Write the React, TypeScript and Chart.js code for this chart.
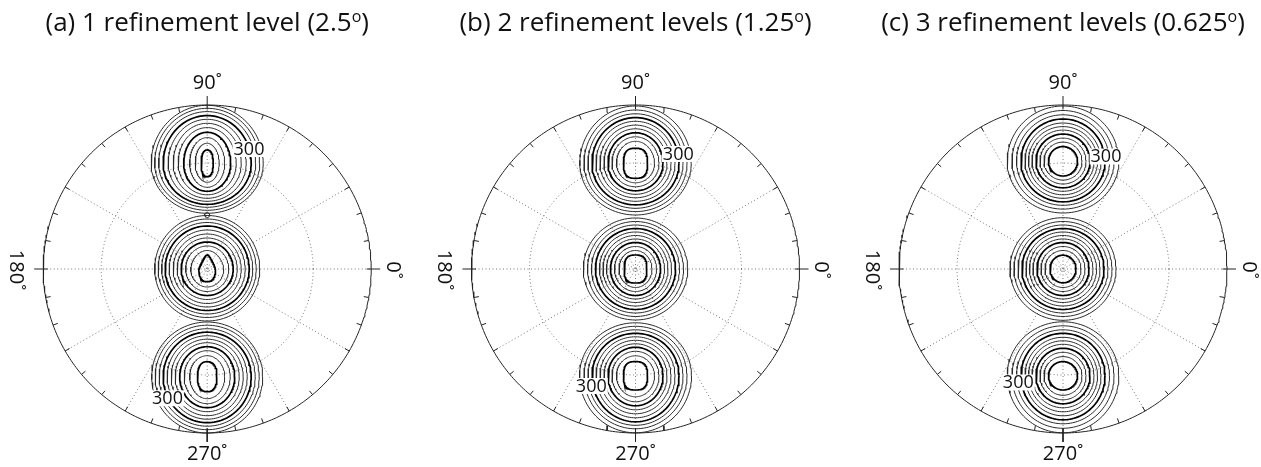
import React, { useEffect, useRef } from "react";
import { Chart, registerables } from "chart.js";

Chart.register(...registerables);

// ---------- data (polar plot units: outer circle radius = 164) ----------
const RMAX = 164;
const GRID_RING = 106;
const SPOKE_ANGLES = [0, 30, 60, 90, 120, 150];
const TICK_ANGLES = [0, 10, 20, 30, 40, 50, 60, 70, 80, 90, 100, 110, 120, 130, 140, 150, 160, 170, 180, 190, 200, 210, 220, 230, 240, 250, 260, 270, 280, 290, 300, 310, 320, 330, 340, 350];
const MAJOR_TICKS = [0, 90, 180, 270];
const ANGLE_LABELS = ["0˚", "90˚", "180˚", "270˚"];

const TITLES = ["(a) 1 refinement level (2.5", "(b) 2 refinement levels (1.25", "(c) 3 refinement levels (0.625"];
const CONTOUR_LABEL = "300";

// contour rings from outermost to innermost; thick lines flagged
const THICK = [false, false, false, true, false, false, false, true, false, false, true];

// blob peak positions (y, up positive)
const PEAK_Y_A = [105.7, 0, -107.7];
const PEAK_Y_B = [105.7, 0, -106.8];
const PEAK_Y_C = [107.7, 0, -106.8];

// panel (a)
const aTopW = [56, 52.5, 48.5, 44, 39, 34, 29, 23.5, 17.5, 12, 6];
const aTopUp = [58, 55, 51.7, 47.7, 44, 40, 35.7, 31, 25.7, 20, 13.3];
const aTopDn = [50, 47, 44, 41, 38, 35, 31.5, 28, 24, 19, 13.3];
const aMidW = [52.5, 49, 45.5, 42, 38, 34, 30, 26, 21.5, 16.5, 8.3];
const aMidUp = [53.5, 50, 46.5, 43, 39, 35, 31, 27, 23, 18.5, 14];
const aMidDn = [52, 48.5, 45, 41.5, 38, 34.5, 30.5, 26.5, 22.5, 18, 12.7];
const aMidTaper = [0, 0, 0, 0, 0, 0, 0, 0, 0, 0.1, 0.6];
const aBotW = [55.5, 52, 48, 44, 40, 36, 32, 27.5, 23, 17.5, 9.7];
const aBotUp = [54.7, 51.5, 48, 44.5, 41, 37.5, 34, 30, 26, 21, 15];
const aBotDn = [56.3, 53, 49.5, 46, 42.5, 39, 35, 31, 27, 22, 15];
const aSaddle = [0, 54, 2.5];

// panel (b)
const bTopW = [55.7, 51.5, 47.5, 43.5, 39.5, 35.5, 31.5, 27.5, 23.5, 19, 12];
const bTopUp = [57.3, 53.3, 49.5, 45.7, 42, 38.2, 34.5, 30.5, 26.5, 22, 15];
const bTopDn = [51.7, 48.3, 45, 41.5, 38, 34.5, 31, 27.5, 23.5, 19.5, 15];
const bMidW = [52.2, 48, 44, 40, 36, 32.5, 29, 25, 21, 16.5, 11.3];
const bMidUp = [51, 47.5, 44, 40.5, 37, 33.5, 30, 26.5, 22.5, 18.5, 14];
const bMidDn = [51, 47.5, 44, 40.5, 37, 33.5, 30, 26.5, 22.5, 18.5, 14];
const bBotW = [56, 51.5, 47.5, 43.5, 39.5, 35.5, 31.5, 27.5, 23.5, 19, 12];
const bBotUp = [53, 49.5, 46, 42.5, 39, 35.5, 32, 28.5, 24.5, 20, 14.2];
const bBotDn = [57, 53, 49.5, 46, 42, 38, 34, 30, 26, 21, 14.2];

// panel (c)
const cTopW = [55.8, 51, 46.5, 42, 38, 34.5, 31, 27, 23, 19, 14.5];
const cTopUp = [55.3, 50.8, 46.5, 42.3, 38.3, 34.7, 31.2, 27.2, 23.2, 19.2, 14.7];
const cTopDn = [51.7, 47.8, 44, 40.5, 37, 33.5, 30, 26.5, 22.7, 18.8, 14.7];
const cMidW = [53, 49, 45, 41, 37, 33.5, 30, 26, 22, 18, 13];
const cMidUp = [51.3, 47.5, 44, 40.5, 37, 33.5, 30, 26.5, 22.5, 18.5, 13.8];
const cMidDn = [51.3, 47.5, 44, 40.5, 37, 33.5, 30, 26.5, 22.5, 18.5, 13.8];
const cBotW = [55.8, 51, 46.5, 42, 38, 34.5, 31, 27, 23, 19, 14.5];
const cBotUp = [54, 50, 46, 42.5, 38.5, 35, 31.5, 27.5, 23.5, 19.2, 14.2];
const cBotDn = [57, 52.5, 48, 44, 40, 36, 32, 28, 24, 19.5, 14.2];

// "300" label positions per panel: [x, y] top blob, bottom blob
const LABEL_POS_A = [[41.8, 120], [-39.7, -129.3]];
const LABEL_POS_B = [[42.8, 115], [-44.2, -117]];
const LABEL_POS_C = [[43, 112.5], [-44.7, -113.5]];

// inner-ring squareness per panel (2 = ellipse)
const INNER_SQUARE = [2.4, 2.8, 2];

// ---------- layout ----------
const PAGE_W = 1261;
const PAGE_H = 467;
const CANVAS_LEFT = [0, 421, 842];
const CANVAS_W = [421, 421, 419];
const CENTER_X = [207.2, 214.5, 221];
const CENTER_Y = 269;
const FONT = "'Open Sans', 'Noto Sans', sans-serif";

type Blob = { peakY: number; w: number[]; up: number[]; dn: number[]; taper?: number[] };

const PANELS = [
  {
    blobs: [
      { peakY: PEAK_Y_A[0], w: aTopW, up: aTopUp, dn: aTopDn },
      { peakY: PEAK_Y_A[1], w: aMidW, up: aMidUp, dn: aMidDn, taper: aMidTaper },
      { peakY: PEAK_Y_A[2], w: aBotW, up: aBotUp, dn: aBotDn },
    ] as Blob[],
    labels: LABEL_POS_A,
    saddle: aSaddle,
  },
  {
    blobs: [
      { peakY: PEAK_Y_B[0], w: bTopW, up: bTopUp, dn: bTopDn },
      { peakY: PEAK_Y_B[1], w: bMidW, up: bMidUp, dn: bMidDn },
      { peakY: PEAK_Y_B[2], w: bBotW, up: bBotUp, dn: bBotDn },
    ] as Blob[],
    labels: LABEL_POS_B,
    saddle: null as number[] | null,
  },
  {
    blobs: [
      { peakY: PEAK_Y_C[0], w: cTopW, up: cTopUp, dn: cTopDn },
      { peakY: PEAK_Y_C[1], w: cMidW, up: cMidUp, dn: cMidDn },
      { peakY: PEAK_Y_C[2], w: cBotW, up: cBotUp, dn: cBotDn },
    ] as Blob[],
    labels: LABEL_POS_C,
    saddle: null as number[] | null,
  },
];

function ring(cx: number, cy: number, halfW: number, up: number, dn: number, taper: number, sq: number, n: number) {
  const pts: { x: number; y: number }[] = [];
  const e = 2 / sq;
  for (let k = 0; k <= n; k++) {
    const t = (k / n) * Math.PI * 2;
    const c = Math.cos(t);
    const s = Math.sin(t);
    const cc = Math.sign(c) * Math.pow(Math.abs(c), e);
    const ss = Math.sign(s) * Math.pow(Math.abs(s), e);
    const y = ss >= 0 ? up * ss : dn * ss;
    const x = halfW * cc * (1 - taper * Math.max(0, ss));
    pts.push({ x: cx + x, y: cy + y });
  }
  return pts;
}

function lineDs(data: { x: number; y: number }[], color: string, width: number, dash: number[] = []) {
  return {
    data,
    showLine: true,
    borderColor: color,
    borderWidth: width,
    borderDash: dash,
    pointRadius: 0,
    pointHoverRadius: 0,
    fill: false,
    tension: 0,
  };
}

function polar(r: number, deg: number) {
  const a = (deg * Math.PI) / 180;
  return { x: r * Math.cos(a), y: r * Math.sin(a) };
}

function buildDatasets(pi: number) {
  const p = PANELS[pi];
  const ds: any[] = [];
  TICK_ANGLES.forEach((ang) => {
    const major = MAJOR_TICKS.includes(ang);
    const r0 = major ? RMAX - 4.5 : RMAX - 5;
    const r1 = major ? RMAX + 9 : RMAX;
    ds.push(lineDs([polar(r0, ang), polar(r1, ang)], "#222", 1));
  });
  const circ: { x: number; y: number }[] = [];
  for (let k = 0; k <= 360; k++) circ.push(polar(RMAX, k));
  ds.push(lineDs(circ, "#222", 1));
  p.blobs.forEach((b) => {
    b.w.forEach((w, i) => {
      const inner = i === b.w.length - 1;
      const sq = inner ? INNER_SQUARE[pi] : 2;
      const taper = b.taper ? b.taper[i] : 0;
      ds.push(lineDs(ring(0, b.peakY, w, b.up[i], b.dn[i], taper, sq, 120), THICK[i] ? "#000" : "#2a2a2a", THICK[i] ? 1.7 : 1));
    });
  });
  if (p.saddle) {
    ds.push(lineDs(ring(p.saddle[0], p.saddle[1], p.saddle[2], p.saddle[2], p.saddle[2], 0, 2, 24), "#2a2a2a", 1));
  }
  const gr: { x: number; y: number }[] = [];
  for (let k = 0; k <= 360; k++) gr.push(polar(GRID_RING, k));
  ds.push(lineDs(gr, "#777", 1, [1, 2.5]));
  SPOKE_ANGLES.forEach((ang) => {
    ds.push(lineDs([polar(RMAX, ang + 180), polar(RMAX, ang)], "#777", 1, [1, 2.5]));
  });
  return ds;
}

const textPlugin = {
  id: "polarText",
  afterDraw(chart: any, _args: any, opts: any) {
    const ctx = chart.ctx as CanvasRenderingContext2D;
    const xs = chart.scales.x;
    const ys = chart.scales.y;
    const px = (v: number) => xs.getPixelForValue(v);
    const py = (v: number) => ys.getPixelForValue(v);
    const pi = opts.panel as number;
    ctx.save();
    ctx.font = `18px ${FONT}`;
    ctx.textAlign = "center";
    ctx.textBaseline = "middle";
    PANELS[pi].labels.forEach((lp: number[]) => {
      const x = px(lp[0]);
      const y = py(lp[1]);
      const w = ctx.measureText(CONTOUR_LABEL).width;
      ctx.fillStyle = "#fff";
      ctx.fillRect(x - w / 2 - 1, y - 8, w + 2, 16);
      ctx.fillStyle = "#111";
      ctx.fillText(CONTOUR_LABEL, x, y + 0.5);
    });
    ctx.font = `20px ${FONT}`;
    ctx.fillStyle = "#111";
    ctx.textBaseline = "alphabetic";
    ctx.textAlign = "center";
    ctx.fillText(ANGLE_LABELS[1], px(0), py(179.7));
    ctx.fillText(ANGLE_LABELS[3], px(0), py(-191));
    ctx.save();
    ctx.translate(px(179.5), py(-1));
    ctx.rotate(Math.PI / 2);
    ctx.fillText(ANGLE_LABELS[0], 0, 0);
    ctx.restore();
    ctx.save();
    ctx.translate(px(-197.5), py(-1));
    ctx.rotate(Math.PI / 2);
    ctx.fillText(ANGLE_LABELS[2], 0, 0);
    ctx.restore();
    const main = TITLES[pi];
    ctx.font = `26px ${FONT}`;
    const wMain = ctx.measureText(main).width;
    const wEnd = ctx.measureText(")").width;
    ctx.font = `16px ${FONT}`;
    const wSup = ctx.measureText("o").width;
    const total = wMain + wSup + wEnd;
    const x0 = px(0) - total / 2;
    const base = 31;
    ctx.textAlign = "left";
    ctx.font = `26px ${FONT}`;
    ctx.fillText(main, x0, base);
    ctx.font = `16px ${FONT}`;
    ctx.fillText("o", x0 + wMain, base - 9.5);
    ctx.font = `26px ${FONT}`;
    ctx.fillText(")", x0 + wMain + wSup, base);
    ctx.restore();
  },
};

function Panel({ index }: { index: number }) {
  const ref = useRef<HTMLCanvasElement | null>(null);
  useEffect(() => {
    if (!ref.current) return;
    const W = CANVAS_W[index];
    const cx = CENTER_X[index];
    const chart = new Chart(ref.current, {
      type: "scatter",
      data: { datasets: buildDatasets(index) },
      options: {
        responsive: false,
        animation: false,
        events: [],
        layout: { padding: 0 },
        scales: {
          x: { type: "linear", display: false, min: -cx, max: W - cx },
          y: { type: "linear", display: false, min: -(PAGE_H - CENTER_Y), max: CENTER_Y },
        },
        plugins: {
          legend: { display: false },
          tooltip: { enabled: false },
          polarText: { panel: index },
        } as any,
      },
      plugins: [textPlugin],
    });
    return () => chart.destroy();
  }, [index]);
  return (
    <canvas
      ref={ref}
      width={CANVAS_W[index]}
      height={PAGE_H}
      style={{ position: "absolute", left: CANVAS_LEFT[index], top: 0, width: CANVAS_W[index], height: PAGE_H }}
    />
  );
}

export default function App() {
  return (
    <div style={{ position: "fixed", left: 0, top: 0, width: PAGE_W, height: PAGE_H, background: "#fff", overflow: "hidden" }}>
      {[0, 1, 2].map((i) => (
        <Panel key={i} index={i} />
      ))}
    </div>
  );
}
